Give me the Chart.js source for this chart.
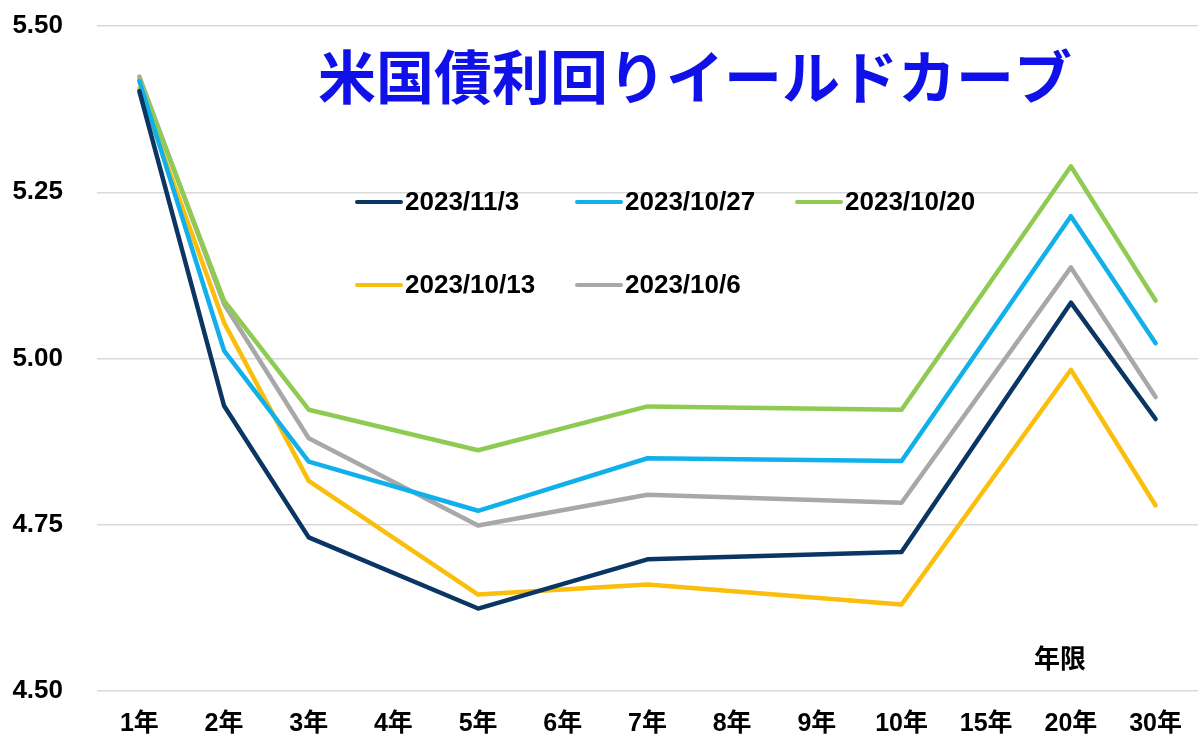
<!DOCTYPE html>
<html lang="ja">
<head>
<meta charset="utf-8">
<title>米国債利回りイールドカーブ</title>
<script src="https://cdn.jsdelivr.net/npm/chart.js@4.4.1/dist/chart.umd.min.js"></script>
<style>
  html, body { margin: 0; padding: 0; background: #ffffff; }
  #wrap { position: relative; width: 1200px; height: 748px; }
</style>
</head>
<body>
<div id="wrap"><canvas id="c"></canvas></div>
<script>
// ---- data ----
const categories = ["1年","2年","3年","4年","5年","6年","7年","8年","9年","10年","15年","20年","30年"];
const seriesLabels = ["2023/11/3","2023/10/27","2023/10/20","2023/10/13","2023/10/6"];
const s20231103 = [5.402, 4.929, 4.731, null, 4.624, null, 4.698, null, null, 4.709, null, 5.084, 4.909];
const s20231027 = [5.417, 5.012, 4.845, null, 4.771, null, 4.850, null, null, 4.846, null, 5.214, 5.023];
const s20231020 = [5.420, 5.087, 4.923, null, 4.862, null, 4.928, null, null, 4.923, null, 5.289, 5.087];
const s20231013 = [5.406, 5.054, 4.816, null, 4.645, null, 4.660, null, null, 4.630, null, 4.983, 4.779];
const s20231006 = [5.424, 5.082, 4.880, null, 4.749, null, 4.795, null, null, 4.783, null, 5.137, 4.942];
const yTicks = [4.50, 4.75, 5.00, 5.25, 5.50];
const titleText = "米国債利回りイールドカーブ";
const xAxisTitle = "年限";

// ---- styles ----
const colors = ["#0b3663", "#12b0ea", "#8fcb52", "#fbbe0c", "#a8a8a8"];
const seriesValues = [s20231103, s20231027, s20231020, s20231013, s20231006];
const FONT = "'Liberation Sans', Arial, 'Noto Sans CJK JP', sans-serif";

const datasets = seriesLabels.map((lab, i) => ({
  label: lab,
  data: seriesValues[i],
  borderColor: colors[i],
  backgroundColor: colors[i],
  borderWidth: 4.5,
  pointRadius: 0,
  pointHoverRadius: 0,
  tension: 0,
  spanGaps: true,
  borderJoinStyle: 'round',
  borderCapStyle: 'round',
  fill: false
}));

const overlayPlugin = {
  id: 'overlay',
  afterDraw(chart) {
    const ctx = chart.ctx;
    ctx.save();
    // title
    ctx.fillStyle = "#1010e8";
    ctx.font = "bold 58px 'Noto Sans CJK JP', sans-serif";
    ctx.textAlign = "center";
    ctx.textBaseline = "middle";
    ctx.fillText(titleText, 695, 77);
    // legend
    const legendPos = [[355, 202], [575, 202], [795, 202], [355, 285], [575, 285]];
    ctx.font = "bold 26px " + FONT;
    ctx.textAlign = "left";
    ctx.textBaseline = "middle";
    chart.data.datasets.forEach((ds, i) => {
      const [lx, ly] = legendPos[i];
      ctx.strokeStyle = ds.borderColor;
      ctx.lineWidth = 4;
      ctx.lineCap = "round";
      ctx.beginPath();
      ctx.moveTo(lx + 2, ly);
      ctx.lineTo(lx + 46, ly);
      ctx.stroke();
      ctx.fillStyle = "#000000";
      ctx.fillText(ds.label, lx + 50, ly + 1);
    });
    // axis title
    ctx.font = "bold 26px 'Noto Sans CJK JP', sans-serif";
    ctx.textAlign = "center";
    ctx.fillStyle = "#000000";
    ctx.fillText(xAxisTitle, 1060, 658);
    ctx.restore();
  }
};

new Chart(document.getElementById('c'), {
  type: 'line',
  data: { labels: categories, datasets },
  plugins: [overlayPlugin],
  options: {
    responsive: true,
    maintainAspectRatio: false,
    animation: false,
    events: [],
    layout: { padding: { top: 26, left: 0, right: 0, bottom: 0 } },
    plugins: { legend: { display: false }, title: { display: false }, tooltip: { enabled: false } },
    scales: {
      x: {
        offset: true,
        grid: { display: false, drawTicks: false },
        border: { display: false },
        ticks: {
          autoSkip: false, maxRotation: 0, minRotation: 0,
          color: "#000000",
          font: { family: FONT, size: 25, weight: 'bold' },
          padding: 18
        },
        afterFit(scale) { scale.height = 57; }
      },
      y: {
        min: 4.5, max: 5.5,
        afterBuildTicks(scale) { scale.ticks = yTicks.map(v => ({ value: v })); },
        grid: { color: "#d9d9d9", lineWidth: 1.5, drawTicks: false },
        border: { display: false },
        ticks: {
          color: "#000000",
          font: { family: FONT, size: 26, weight: 'bold' },
          padding: 34,
          callback: v => Number(v).toFixed(2)
        },
        afterFit(scale) { scale.width = 97; scale.paddingTop = 0; scale.paddingBottom = 0; }
      }
    }
  }
});
</script>
</body>
</html>
